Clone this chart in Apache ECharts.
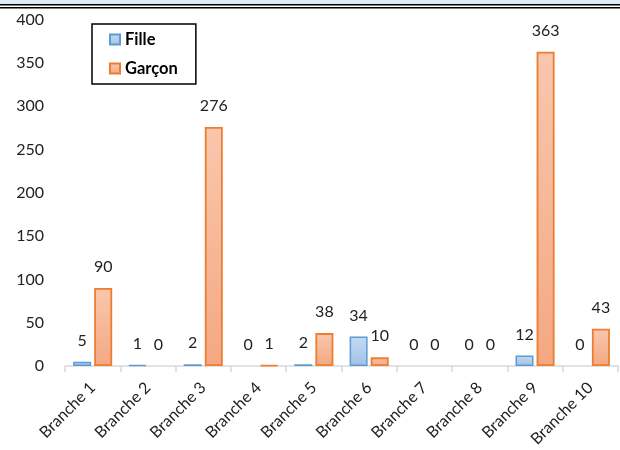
<!DOCTYPE html>
<html>
<head>
<meta charset="utf-8">
<script src="https://cdn.jsdelivr.net/npm/echarts@6/dist/echarts.min.js"></script>
<style>html,body{margin:0;padding:0;background:#fff}#c{width:620px;height:450px}</style>
</head>
<body>
<div id="c"></div>
<script>
var categories = ['Branche 1','Branche 2','Branche 3','Branche 4','Branche 5','Branche 6','Branche 7','Branche 8','Branche 9','Branche 10'];
var fille = [5, 1, 2, 0, 2, 34, 0, 0, 12, 0];
var garcon = [90, 0, 276, 1, 38, 10, 0, 0, 363, 43];
var seriesNames = ['Fille', 'Garçon'];

var FONT = 'Lato, "Open Sans", sans-serif';
var chart = echarts.init(document.getElementById('c'), null, {renderer: 'canvas'});
function grad(top, bottom) {
  return new echarts.graphic.LinearGradient(0, 0, 0, 1, [{offset: 0, color: top}, {offset: 1, color: bottom}]);
}
// zero values: no visible bar outline
function items(arr) {
  return arr.map(function (v) {
    return v === 0 ? {value: v, itemStyle: {borderWidth: 0, opacity: 0}, label: {opacity: 1}} : {value: v};
  });
}
var lbl = {show: true, position: 'top', distance: 13, color: '#222', fontSize: 16, fontFamily: FONT};
chart.setOption({
  animation: false,
  backgroundColor: '#fff',
  graphic: [
    {type: 'rect', shape: {x: 0, y: 0, width: 620, height: 4}, style: {fill: '#dfeaf6'}},
    {type: 'line', shape: {x1: 0, y1: 4.8, x2: 620, y2: 4.8}, style: {stroke: '#000', lineWidth: 1.6}},
    {type: 'line', shape: {x1: 0, y1: 7.8, x2: 620, y2: 7.8}, style: {stroke: '#000', lineWidth: 1.6}}
  ],
  legend: {
    orient: 'vertical', left: 92, top: 24,
    padding: [7, 18, 7, 17], itemGap: 12,
    itemWidth: 10, itemHeight: 10, icon: 'rect',
    borderColor: '#000', borderWidth: 1.5,
    textStyle: {fontFamily: FONT, fontWeight: 'bold', fontSize: 16.5, color: '#000'},
    data: seriesNames
  },
  grid: {left: 65, right: 2, top: 19.6, bottom: 84, containLabel: false},
  xAxis: {
    type: 'category', data: categories,
    axisLine: {lineStyle: {color: '#d9d9d9', width: 1.5}},
    axisTick: {show: true, length: 6, lineStyle: {color: '#d9d9d9', width: 1.5}},
    axisLabel: {rotate: 45, interval: 0, fontFamily: FONT, fontSize: 16, color: '#222', margin: 19}
  },
  yAxis: {
    type: 'value', min: 0, max: 400, interval: 50,
    splitLine: {show: false}, axisLine: {show: false}, axisTick: {show: false},
    axisLabel: {fontFamily: FONT, fontSize: 16, color: '#222', margin: 21}
  },
  series: [
    {name: seriesNames[0], type: 'bar', data: items(fille), barWidth: 18, barGap: '17%',
     itemStyle: {color: grad('#c6daf1', '#9fc2e7'), borderColor: '#5b9bd5', borderWidth: 1.5},
     label: lbl},
    {name: seriesNames[1], type: 'bar', data: items(garcon), barWidth: 18,
     itemStyle: {color: grad('#f9c7ad', '#f4a882'), borderColor: '#ed7d31', borderWidth: 1.8},
     label: lbl}
  ]
});
</script>
</body>
</html>
